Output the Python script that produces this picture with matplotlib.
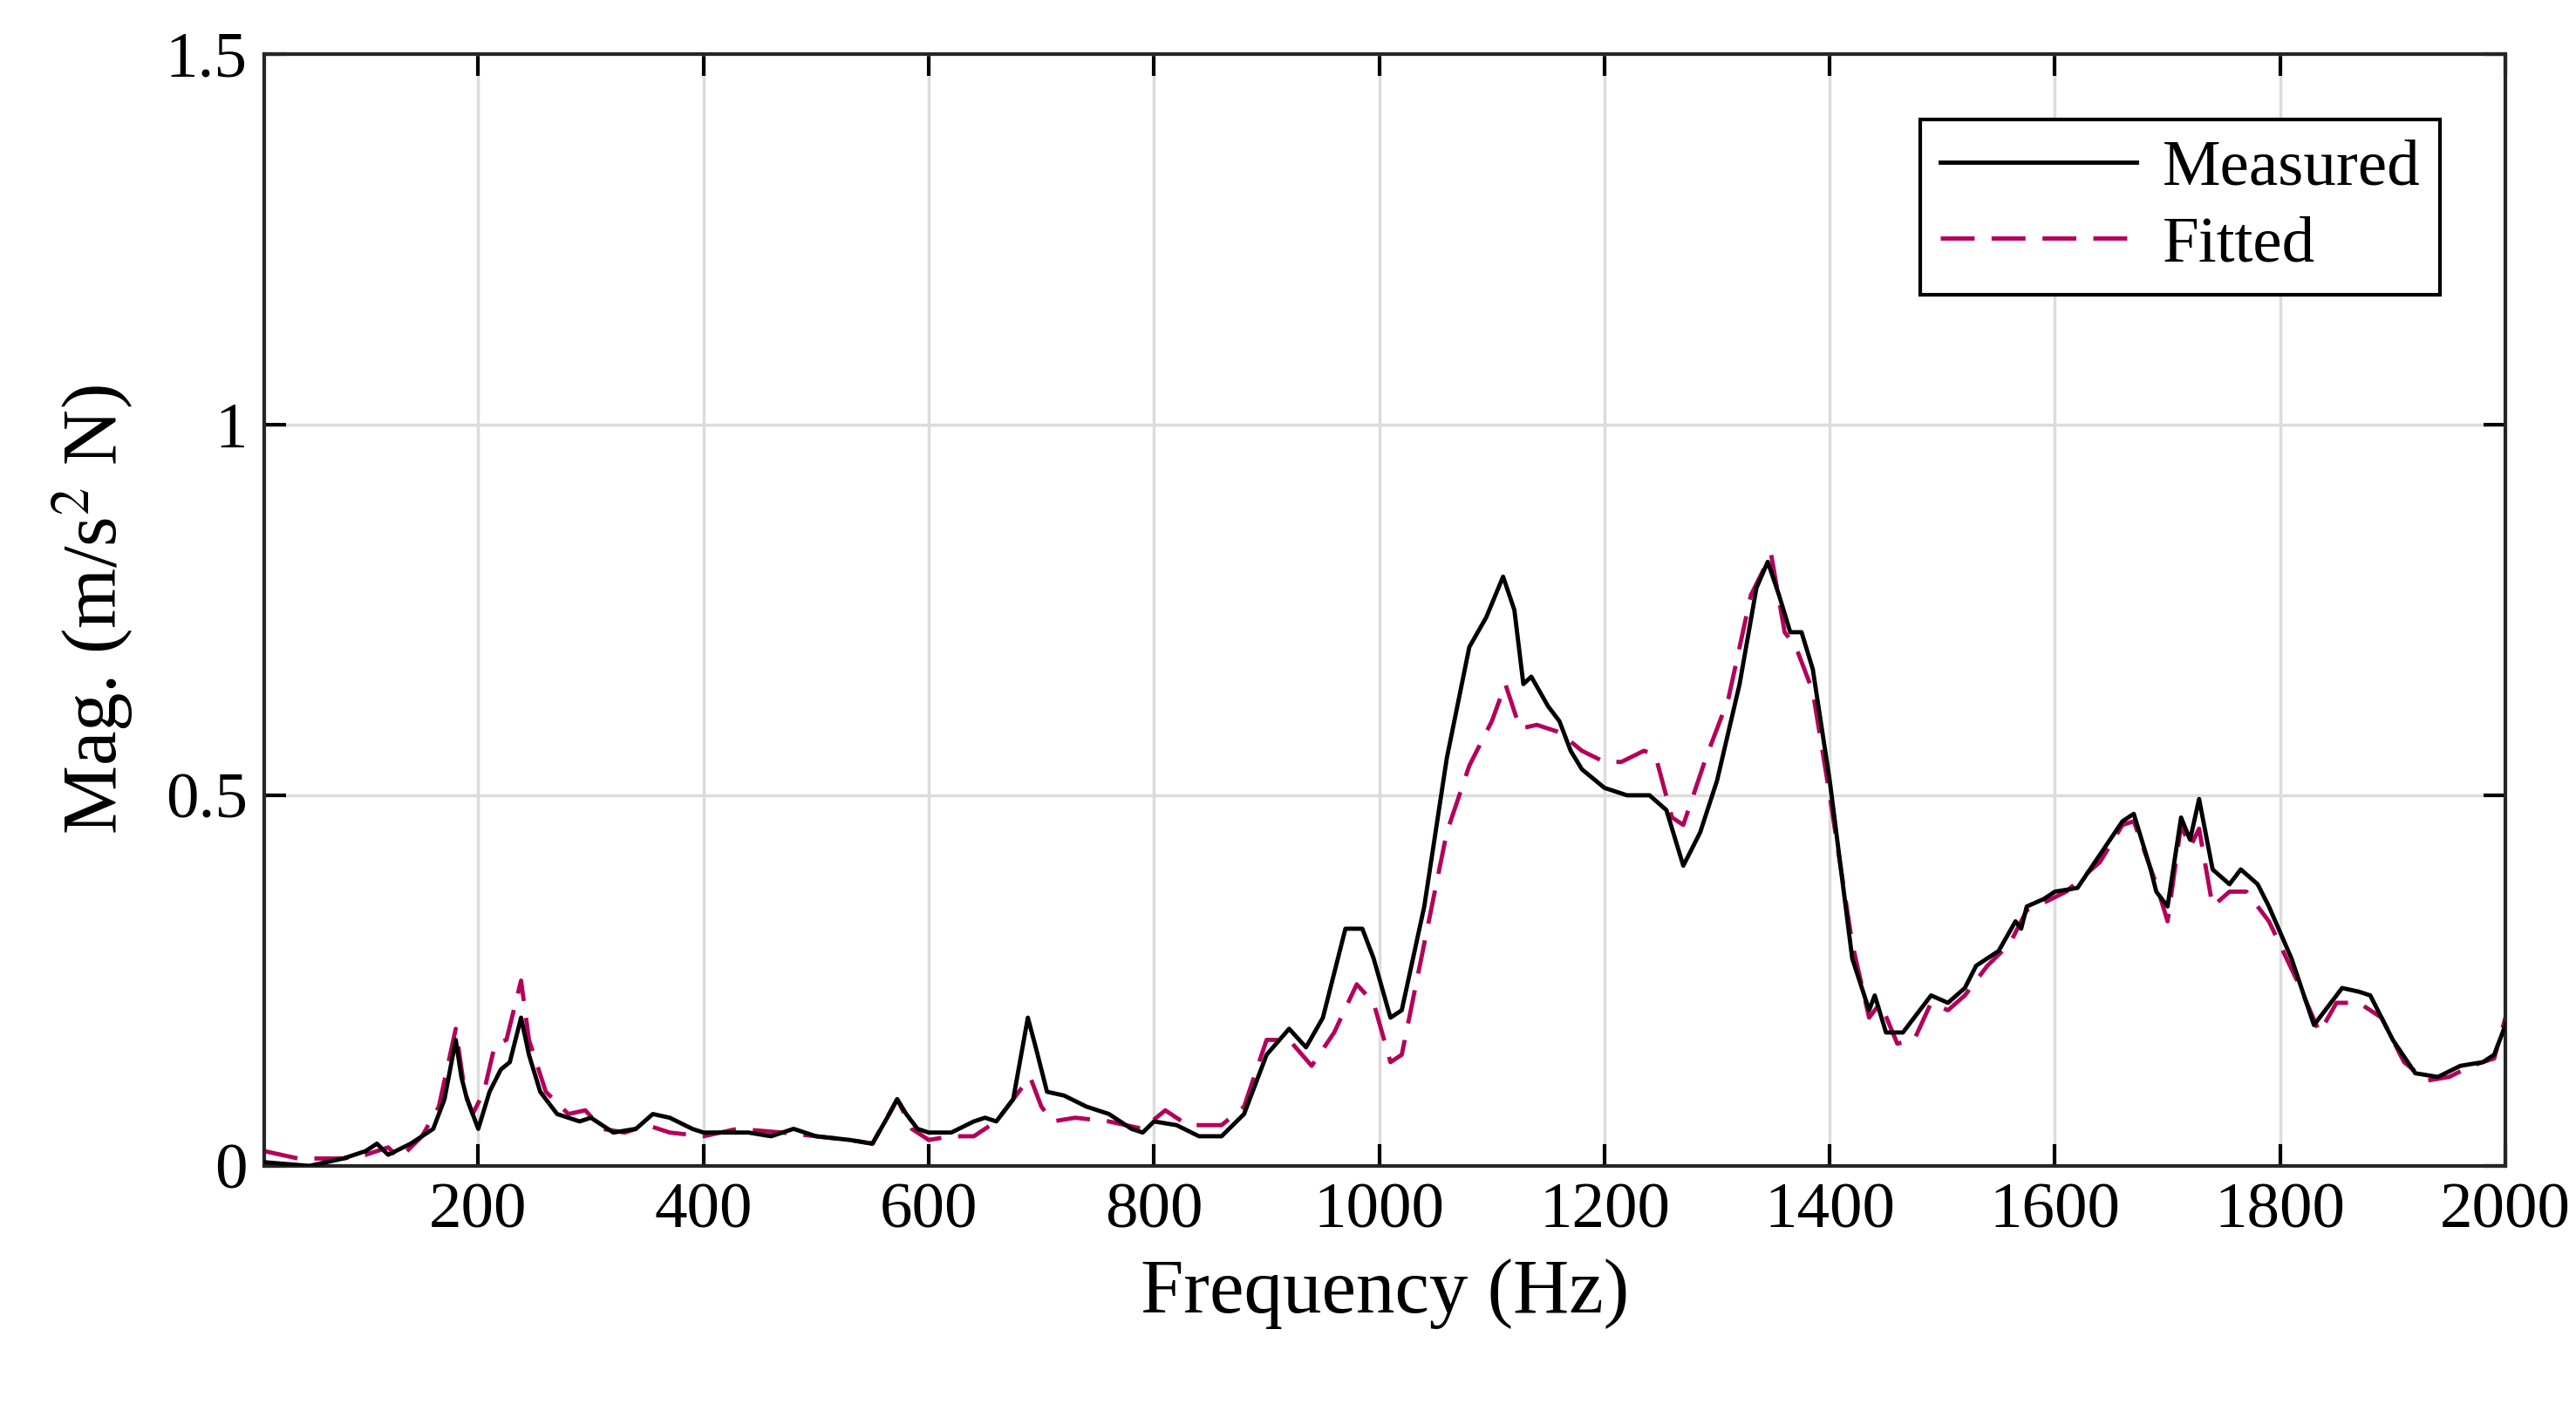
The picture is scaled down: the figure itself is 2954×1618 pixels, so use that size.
import matplotlib.pyplot as plt
import numpy as np

# measured FRF magnitude
meas_f = [10, 50, 80, 100, 110, 120, 140, 160, 170, 180, 185, 190, 200, 210, 220, 228, 238, 245, 255, 270,
          290, 300, 320, 340, 355, 370, 390, 400, 420, 440, 460, 480, 500, 530, 550, 565, 572, 580, 590, 600,
          620, 640, 650, 660, 675, 688, 695, 705, 720, 740, 760, 780, 790, 800, 820, 840, 860, 880, 900, 920,
          935, 950, 970, 985, 995, 1010, 1020, 1040, 1060, 1080, 1095, 1110, 1120, 1128, 1135, 1150, 1160, 1170, 1180, 1200,
          1220, 1240, 1255, 1270, 1285, 1300, 1320, 1335, 1345, 1355, 1365, 1375, 1385, 1400, 1410, 1420, 1435, 1440, 1450, 1465,
          1475, 1490, 1505, 1520, 1530, 1550, 1565, 1570, 1575, 1590, 1600, 1620, 1640, 1660, 1670, 1685, 1690, 1700, 1712, 1720,
          1728, 1740, 1755, 1765, 1780, 1790, 1810, 1830, 1840, 1855, 1870, 1880, 1900, 1920, 1940, 1960, 1980, 1990, 2000]
meas_v = [0.005, 0.0, 0.01, 0.02, 0.03, 0.015, 0.03, 0.05, 0.09, 0.17, 0.12, 0.09, 0.05, 0.1, 0.13, 0.14, 0.2, 0.15, 0.1, 0.07,
          0.06, 0.065, 0.045, 0.05, 0.07, 0.065, 0.05, 0.045, 0.045, 0.045, 0.04, 0.05, 0.04, 0.035, 0.03, 0.07, 0.09, 0.07, 0.05, 0.045,
          0.045, 0.06, 0.065, 0.06, 0.09, 0.2, 0.16, 0.1, 0.095, 0.08, 0.07, 0.05, 0.045, 0.06, 0.055, 0.04, 0.04, 0.07, 0.15, 0.185,
          0.16, 0.2, 0.32, 0.32, 0.28, 0.2, 0.21, 0.35, 0.55, 0.7, 0.74, 0.795, 0.75, 0.65, 0.66, 0.62, 0.6, 0.56, 0.535, 0.51,
          0.5, 0.5, 0.48, 0.405, 0.45, 0.52, 0.65, 0.78, 0.815, 0.77, 0.72, 0.72, 0.67, 0.52, 0.4, 0.28, 0.21, 0.23, 0.18, 0.18,
          0.2, 0.23, 0.22, 0.24, 0.27, 0.29, 0.33, 0.32, 0.35, 0.36, 0.37, 0.375, 0.42, 0.465, 0.475, 0.4, 0.37, 0.35, 0.47, 0.44,
          0.495, 0.4, 0.38, 0.4, 0.38, 0.35, 0.28, 0.19, 0.21, 0.24, 0.235, 0.23, 0.17, 0.125, 0.12, 0.135, 0.14, 0.15, 0.19]

# fitted model
fit_f = [10, 40, 80, 100, 120, 130, 150, 165, 180, 188, 195, 205, 215, 225, 238, 245, 260, 280, 295, 310,
         330, 350, 370, 400, 430, 470, 500, 530, 550, 572, 585, 600, 620, 640, 660, 680, 690, 700, 710, 730,
         760, 790, 810, 830, 860, 880, 900, 920, 940, 960, 980, 995, 1010, 1020, 1040, 1060, 1080, 1100, 1112, 1125,
         1140, 1160, 1180, 1200, 1215, 1235, 1245, 1260, 1270, 1290, 1310, 1330, 1348, 1360, 1370, 1385, 1400, 1420, 1435, 1445,
         1460, 1475, 1490, 1505, 1520, 1540, 1560, 1575, 1590, 1610, 1640, 1660, 1670, 1690, 1700, 1712, 1720, 1728, 1740, 1755,
         1770, 1790, 1815, 1835, 1850, 1870, 1890, 1910, 1930, 1950, 1970, 1990, 2000]
fit_v = [0.02, 0.01, 0.01, 0.015, 0.025, 0.01, 0.04, 0.08, 0.185, 0.1, 0.07, 0.1, 0.165, 0.17, 0.25, 0.17, 0.1, 0.07, 0.075, 0.05,
         0.045, 0.055, 0.045, 0.04, 0.05, 0.045, 0.04, 0.035, 0.03, 0.09, 0.05, 0.035, 0.04, 0.04, 0.06, 0.1, 0.12, 0.08, 0.06, 0.065,
         0.06, 0.05, 0.075, 0.055, 0.055, 0.08, 0.17, 0.17, 0.135, 0.18, 0.245, 0.22, 0.14, 0.15, 0.3, 0.45, 0.54, 0.6, 0.65, 0.59,
         0.595, 0.585, 0.56, 0.545, 0.545, 0.56, 0.555, 0.47, 0.46, 0.55, 0.63, 0.77, 0.825, 0.72, 0.7, 0.64, 0.5, 0.3, 0.2, 0.22,
         0.165, 0.17, 0.22, 0.21, 0.23, 0.27, 0.3, 0.345, 0.355, 0.37, 0.41, 0.46, 0.465, 0.38, 0.33, 0.46, 0.43, 0.455, 0.35, 0.37,
         0.37, 0.33, 0.25, 0.18, 0.22, 0.22, 0.2, 0.14, 0.115, 0.12, 0.135, 0.145, 0.2]

x_ticks = [200, 400, 600, 800, 1000, 1200, 1400, 1600, 1800, 2000]
y_ticks = [0, 0.5, 1, 1.5]
y_labels = ['0', '0.5', '1', '1.5']

plt.rcParams['font.family'] = ['Liberation Serif', 'DejaVu Serif']
plt.rcParams['mathtext.fontset'] = 'stix'

fig = plt.figure(figsize=(29.54, 16.18), dpi=100)
ax = fig.add_axes([0.1026, 0.1737, 0.87, 0.788])

ax.plot(meas_f, meas_v, color='black', lw=3.5, label='Measured', zorder=3)
ax.plot(fit_f, fit_v, color='#B5005B', lw=3.5, dashes=(8, 4), label='Fitted', zorder=2)

ax.set_xlim(10, 2000)
ax.set_ylim(0, 1.5)
ax.set_xticks(x_ticks)
ax.set_yticks(y_ticks)
ax.set_yticklabels(y_labels)
ax.grid(True, color='#dcdcdc', lw=2.5)
ax.tick_params(direction='in', length=18, width=3, labelsize=54, pad=14,
               top=True, right=True)
for s in ax.spines.values():
    s.set_linewidth(3)
    s.set_color('#262626')

ax.set_xlabel('Frequency (Hz)', fontsize=64, labelpad=14)
ax.set_ylabel(r'Mag. (m/s$^2$ N)', fontsize=64, labelpad=24)

leg = ax.legend(loc='upper right', fontsize=54, handlelength=3.0, fancybox=False,
                edgecolor='black', framealpha=1, borderaxespad=1.0, handletextpad=0.4,
                borderpad=0.3, labelspacing=0.25)
leg.get_frame().set_linewidth(3)

fig.savefig('out.png', dpi=100)
